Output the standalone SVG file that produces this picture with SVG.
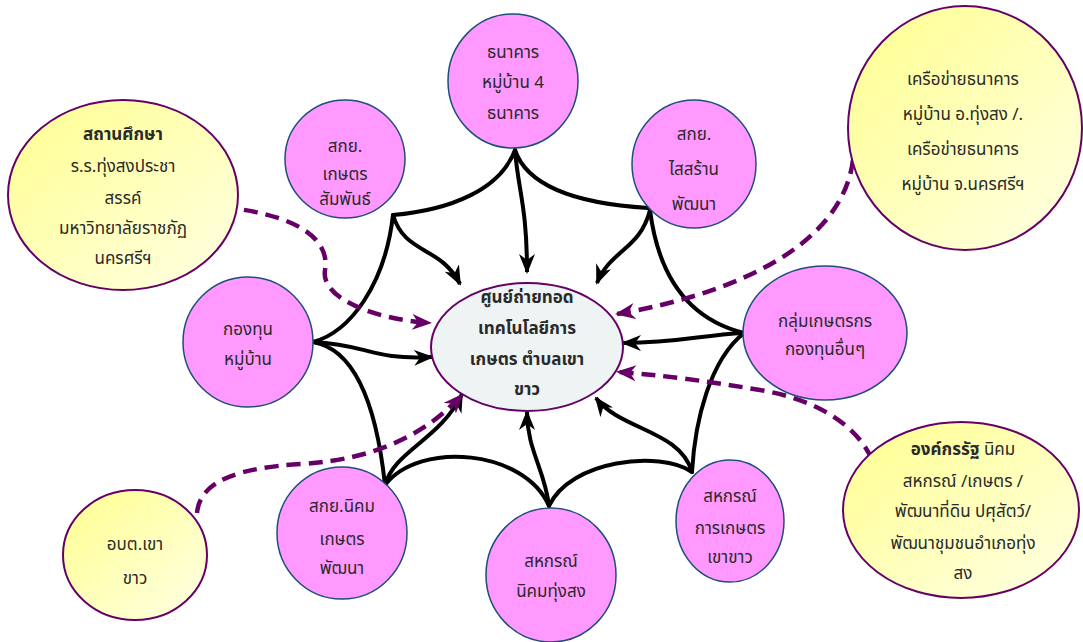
<svg xmlns="http://www.w3.org/2000/svg" width="1083" height="642" viewBox="0 0 1083 642">
  <defs>
    <linearGradient id="yellowFill" x1="0" y1="0" x2="1" y2="1">
      <stop offset="0" stop-color="#ffff8f"/>
      <stop offset="1" stop-color="#ffffe6"/>
    </linearGradient>
    <marker id="arrowBlack" viewBox="0 0 20 16" refX="18" refY="8" markerWidth="20" markerHeight="16" markerUnits="userSpaceOnUse" orient="auto">
      <path d="M0,0 L20,8 L0,16 L6,8 Z" fill="#000"/>
    </marker>
    <marker id="arrowPurple" viewBox="0 0 20 16" refX="18" refY="8" markerWidth="20" markerHeight="16" markerUnits="userSpaceOnUse" orient="auto">
      <path d="M0,0 L20,8 L0,16 L6,8 Z" fill="#660066"/>
    </marker>
    <style>
      .pink { fill: #ff99ff; stroke: #1f4e79; stroke-width: 1.5; }
      .yellow { fill: url(#yellowFill); stroke: #660066; stroke-width: 2; }
      .hub { fill: #eef3f3; stroke: #660066; stroke-width: 2; }
      text { font-family: "Noto Sans Thai", "Noto Serif Thai", "Loma", "Garuda", "Norasi", "DejaVu Sans", sans-serif; font-size: 17px; fill: #2a2a2a; text-anchor: middle; }
      .b { font-weight: bold; }
      .web { fill: none; stroke: #000; stroke-width: 4; stroke-linecap: round; }
      .link { fill: none; stroke: #000; stroke-width: 4; marker-end: url(#arrowBlack); }
      .dash { fill: none; stroke: #660066; stroke-width: 4.5; stroke-dasharray: 14 8; marker-end: url(#arrowPurple); }
    </style>
  </defs>

  <!-- connectors: web between neighbouring nodes, arrows into the hub -->
  <g id="connectors">
    <path class="web" d="M515,150 C500,190 450,210 393,215"/>
    <path class="web" d="M515,150 C530,195 600,205 648,208"/>
    <path class="web" d="M393,215 C385,285 350,332 313,342"/>
    <path class="web" d="M313,342 C360,350 378,420 385,485"/>
    <path class="web" d="M650,210 C660,290 700,322 744,333"/>
    <path class="web" d="M744,333 C710,360 695,420 692,472"/>
    <path class="web" d="M385,485 C420,440 525,450 549,506"/>
    <path class="web" d="M549,506 C570,460 660,450 692,472"/>

    <path class="link" d="M515,150 C518,190 527,205 527,272"/>
    <path class="link" d="M393,215 C405,255 440,245 460,284"/>
    <path class="link" d="M650,210 C640,250 610,250 597,283"/>
    <path class="link" d="M313,342 C370,345 370,360 432,357"/>
    <path class="link" d="M744,333 C700,335 680,343 623,343"/>
    <path class="link" d="M385,485 C395,450 440,440 462,394"/>
    <path class="link" d="M549,506 C545,470 527,450 527,412"/>
    <path class="link" d="M692,472 C680,430 620,430 596,398"/>

    <path class="dash" d="M222,207 C300,215 330,240 325,270 C320,300 380,320 430,323"/>
    <path class="dash" d="M853,160 C840,260 700,300 617,314"/>
    <path class="dash" d="M878,480 C870,430 820,400 760,390 C700,380 660,375 618,372"/>
    <path class="dash" d="M197,513 C200,480 240,468 300,464 C380,460 430,430 462,395"/>
  </g>

  <g id="hub">
    <ellipse class="hub" cx="527" cy="347" rx="96" ry="64"/>
    <text class="b" x="527" y="303">ศูนย์ถ่ายทอด</text>
    <text class="b" x="527" y="334">เทคโนโลยีการ</text>
    <text class="b" x="527" y="365">เกษตร ตำบลเขา</text>
    <text class="b" x="527" y="395">ขาว</text>
  </g>

  <g id="village-bank">
    <ellipse class="pink" cx="513" cy="81" rx="65" ry="67"/>
    <text x="513" y="58">ธนาคาร</text>
    <text x="513" y="88">หมู่บ้าน  4</text>
    <text x="513" y="119">ธนาคาร</text>
  </g>

  <g id="rubber-group-1">
    <ellipse class="pink" cx="345" cy="159" rx="60" ry="59"/>
    <text x="345" y="152">สกย.</text>
    <text x="345" y="180">เกษตร</text>
    <text x="345" y="205">สัมพันธ์</text>
  </g>

  <g id="rubber-group-2">
    <ellipse class="pink" cx="694" cy="164" rx="62" ry="64"/>
    <text x="694" y="140">สกย.</text>
    <text x="694" y="175">ไสสร้าน</text>
    <text x="694" y="210">พัฒนา</text>
  </g>

  <g id="village-fund">
    <ellipse class="pink" cx="248" cy="342" rx="65" ry="65"/>
    <text x="248" y="335">กองทุน</text>
    <text x="248" y="365">หมู่บ้าน</text>
  </g>

  <g id="farmer-groups">
    <ellipse class="pink" cx="825" cy="333" rx="82" ry="67"/>
    <text x="825" y="327">กลุ่มเกษตรกร</text>
    <text x="825" y="355">กองทุนอื่นๆ</text>
  </g>

  <g id="rubber-group-3">
    <ellipse class="pink" cx="342" cy="533" rx="65" ry="66"/>
    <text x="342" y="512">สกย.นิคม</text>
    <text x="342" y="545">เกษตร</text>
    <text x="342" y="574">พัฒนา</text>
  </g>

  <g id="coop-settlement">
    <ellipse class="pink" cx="551" cy="575" rx="65" ry="67"/>
    <text x="551" y="567">สหกรณ์</text>
    <text x="551" y="597">นิคมทุ่งสง</text>
  </g>

  <g id="coop-agri">
    <ellipse class="pink" cx="730" cy="521" rx="54" ry="61"/>
    <text x="730" y="502">สหกรณ์</text>
    <text x="730" y="534">การเกษตร</text>
    <text x="730" y="563">เขาขาว</text>
  </g>

  <g id="schools">
    <ellipse class="yellow" cx="123" cy="195" rx="115" ry="95"/>
    <text class="b" x="123" y="140">สถานศึกษา</text>
    <text x="123" y="172">ร.ร.ทุ่งสงประชา</text>
    <text x="123" y="204">สรรค์</text>
    <text x="123" y="234">มหาวิทยาลัยราชภัฏ</text>
    <text x="123" y="264">นครศรีฯ</text>
  </g>

  <g id="bank-network">
    <ellipse class="yellow" cx="965" cy="128" rx="117" ry="122"/>
    <text x="963" y="85">เครือข่ายธนาคาร</text>
    <text x="963" y="120">หมู่บ้าน อ.ทุ่งสง /.</text>
    <text x="963" y="155">เครือข่ายธนาคาร</text>
    <text x="963" y="190">หมู่บ้าน จ.นครศรีฯ</text>
  </g>

  <g id="state-agencies">
    <ellipse class="yellow" cx="961" cy="510" rx="118" ry="88"/>
    <text x="963" y="455"><tspan class="b">องค์กรรัฐ</tspan>  นิคม</text>
    <text x="963" y="487">สหกรณ์ /เกษตร /</text>
    <text x="963" y="517">พัฒนาที่ดิน ปศุสัตว์/</text>
    <text x="963" y="549">พัฒนาชุมชนอำเภอทุ่ง</text>
    <text x="963" y="579">สง</text>
  </g>

  <g id="tambon-org">
    <ellipse class="yellow" cx="135" cy="555" rx="72" ry="65"/>
    <text x="135" y="550">อบต.เขา</text>
    <text x="135" y="584">ขาว</text>
  </g>
</svg>
